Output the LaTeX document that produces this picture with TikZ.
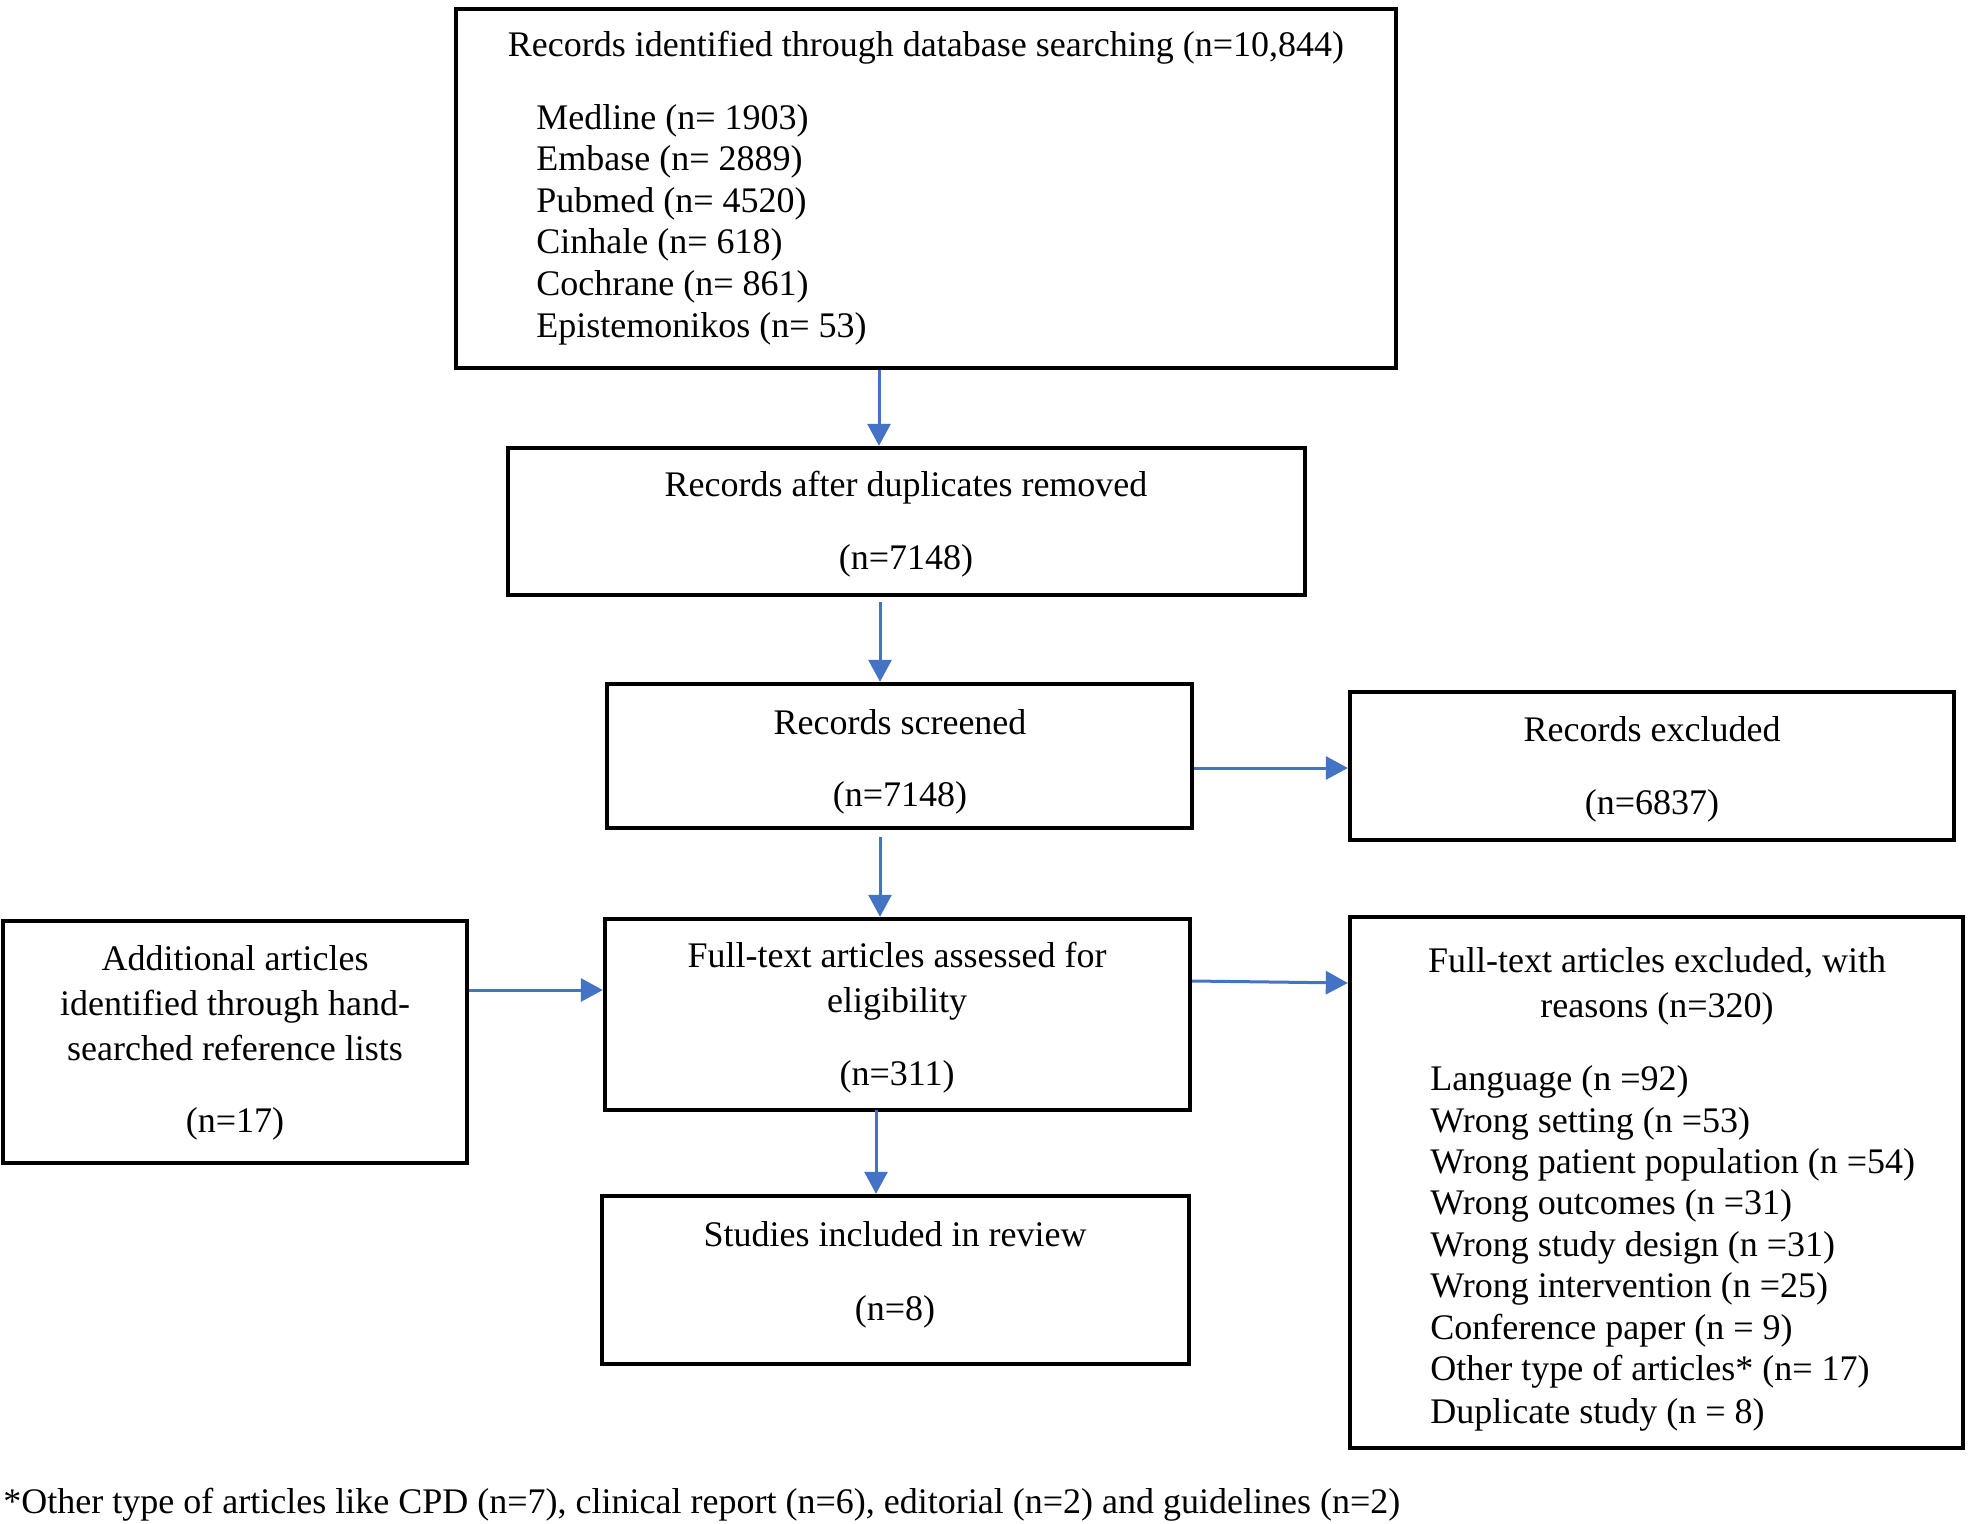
\documentclass[tikz,border=0pt]{standalone}
\usepackage{fontspec}
\setmainfont{Liberation Serif}
\usetikzlibrary{arrows.meta}
\definecolor{arrblue}{HTML}{4472C4}
\tikzset{
  box/.style={draw=black, line width=2.2pt, rectangle, inner sep=0pt, fill=none},
  txt/.style={font=\fontsize{18pt}{21pt}\selectfont, inner sep=0pt, anchor=base},
  ltxt/.style={txt, anchor=base west},
  arr/.style={draw=arrblue, line width=1.5pt, -{Triangle[length=11pt,width=11.5pt]}}
}
\newcommand{\mkbox}[5]{\node[box, minimum width=#4*0.5pt-#2*0.5pt, minimum height=#5*0.5pt-#3*0.5pt] (#1) at ({(#2+#4)/2},{(#3+#5)/2}) {};}
\begin{document}
\begin{tikzpicture}[x=0.5pt,y=-0.5pt]
\useasboundingbox (0,0) rectangle (1968,1524);
\fill[white] (0,0) rectangle (1968,1524);
% boxes
\mkbox{b1}{456}{9}{1396}{368}
\mkbox{b2}{508}{448}{1305}{595}
\mkbox{b3}{607}{684}{1192}{828}
\mkbox{b4}{1350}{692}{1954}{840}
\mkbox{b5}{605}{919}{1190}{1110}
\mkbox{b6}{3}{921}{467}{1163}
\mkbox{b7}{1350}{917}{1963}{1448}
\mkbox{b8}{602}{1196}{1189}{1364}
% box 1 text
\node[txt] (t1) at (926,57) {Records identified through database searching (n=10,844)};
\node[ltxt] (l1) at (536,130) {Medline (n= 1903)};
\node[ltxt] (l2) at (536,171) {Embase (n= 2889)};
\node[ltxt] (l3) at (536,213) {Pubmed (n= 4520)};
\node[ltxt] (l4) at (536,254) {Cinhale (n= 618)};
\node[ltxt] (l5) at (536,296) {Cochrane (n= 861)};
\node[ltxt] (l6) at (536,337) {Epistemonikos (n= 53)};
% box 2
\node[txt] (t2a) at (906,496) {Records after duplicates removed};
\node[txt] (t2b) at (906,569) {(n=7148)};
% box 3
\node[txt] (t3a) at (900,734) {Records screened};
\node[txt] (t3b) at (900,806) {(n=7148)};
% box 4
\node[txt] (t4a) at (1652,741) {Records excluded};
\node[txt] (t4b) at (1652,814) {(n=6837)};
% box 5
\node[txt] (t5a) at (897,967) {Full-text articles assessed for};
\node[txt] (t5b) at (897,1012) {eligibility};
\node[txt] (t5c) at (897,1085) {(n=311)};
% box 6
\node[txt] (t6a) at (235,970) {Additional articles};
\node[txt] (t6b) at (235,1015) {identified through hand-};
\node[txt] (t6c) at (235,1060) {searched reference lists};
\node[txt] (t6d) at (235,1132) {(n=17)};
% box 7
\node[txt] (t7a) at (1657,972) {Full-text articles excluded, with};
\node[txt] (t7b) at (1657,1017) {reasons (n=320)};
\node[ltxt] (m1) at (1430,1090) {Language (n =92)};
\node[ltxt] (m2) at (1430,1132) {Wrong setting (n =53)};
\node[ltxt] (m3) at (1430,1173) {Wrong patient population (n =54)};
\node[ltxt] (m4) at (1430,1214) {Wrong outcomes (n =31)};
\node[ltxt] (m5) at (1430,1256) {Wrong study design (n =31)};
\node[ltxt] (m6) at (1430,1297) {Wrong intervention (n =25)};
\node[ltxt] (m7) at (1430,1339) {Conference paper (n = 9)};
\node[ltxt] (m8) at (1430,1380) {Other type of articles* (n= 17)};
\node[ltxt] (m9) at (1430,1423) {Duplicate study (n = 8)};
% box 8
\node[txt] (t8a) at (895,1246) {Studies included in review};
\node[txt] (t8b) at (895,1320) {(n=8)};
% footnote
\node[ltxt] (fn) at (3,1513) {*Other type of articles like CPD (n=7), clinical report (n=6), editorial (n=2) and guidelines (n=2)};
% connectors
\coordinate (x1) at (879,0);
\coordinate (x2) at (880,0);
\coordinate (x3) at (876,0);
\coordinate (s2) at (880,602);
\coordinate (s4) at (880,837);
\coordinate (s7) at (876,1110);
\coordinate (e7) at (876,1195);
\coordinate (ya5) at (0,990);
\coordinate (ya6a) at (0,981);
\coordinate (ya6b) at (0,983);
\coordinate (ya3) at (0,768);
\draw[arr] (b1.south -| x1) -- (b2.north -| x1);
\draw[arr] (s2) -- (b3.north -| x2);
\draw[arr] (b3.east |- ya3) -- (b4.west |- ya3);
\draw[arr] (s4) -- (b5.north -| x2);
\draw[arr] (b6.east |- ya5) -- (b5.west |- ya5);
\draw[arr] (b5.east |- ya6a) -- (b7.west |- ya6b);
\draw[arr] (s7) -- (b8.north -| x3);
\end{tikzpicture}
\end{document}
